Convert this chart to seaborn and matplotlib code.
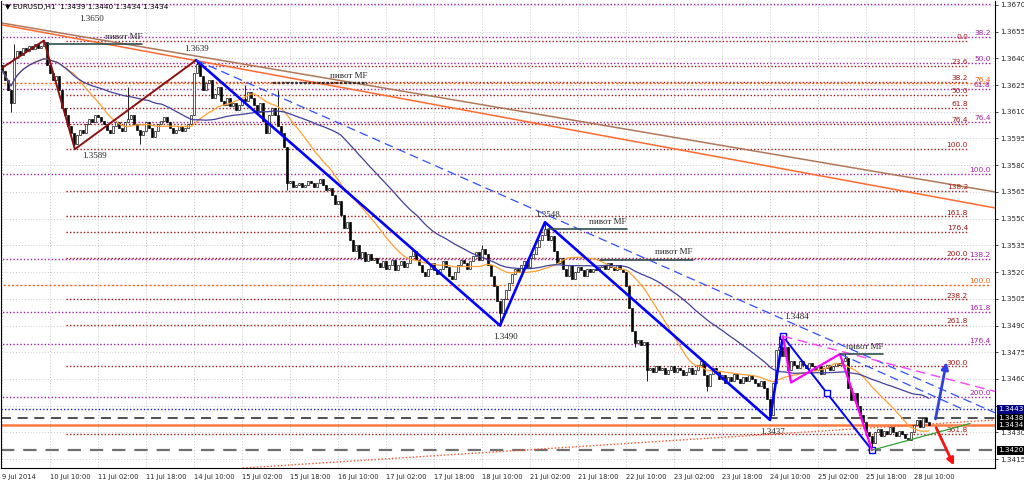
import numpy as np
import pandas as pd
import matplotlib
matplotlib.use("Agg")
import matplotlib.pyplot as plt
import matplotlib.transforms as mtransforms
import seaborn as sns

sns.set_style("white")
plt.rcParams['font.family'] = ['DejaVu Sans']

# EURUSD H1 closes, in pips above 1.3000 (633 -> 1.3633), bar 0 = 9 Jul 18:00
closes = [633, 628, 622, 615, 640, 644, 642, 646, 644, 647, 645, 648, 646, 647, 649,
          636, 632, 628, 630, 622, 612, 608, 602, 598, 592,
          597, 600, 598, 603, 606, 604, 608, 607, 605, 603, 600, 598, 602, 604, 601,
          599, 604, 606, 608, 603, 600, 597, 599, 604, 601, 596, 599, 603, 605, 607,
          604, 601, 598, 600, 602, 599, 601, 603, 608,
          632, 637,
          630, 622, 626, 628, 618, 620, 624, 616, 614, 618,
          613, 615, 611, 614, 617, 616, 621, 618,
          614, 610, 615, 605, 598, 608, 612, 608, 602, 598,
          590, 570,
          571, 568, 569, 570, 568, 569, 571, 570, 568, 570, 572, 569, 566, 567, 563,
          558, 560, 552, 545, 548, 538, 532, 535,
          528, 531, 526, 530, 527, 528, 525,
          523, 526, 522, 524, 527, 521, 524, 526, 523, 525,
          529, 532, 527, 524, 520, 518, 522, 525, 521, 519,
          522, 526, 523, 518, 516, 520, 524, 527, 525, 522,
          526, 529, 531, 527, 533, 530, 524,
          518, 512, 504, 497,
          505, 510, 514, 519, 522, 520, 524, 526, 523,
          528, 530, 534, 538, 541, 544,
          538, 540, 532, 525, 528, 522, 518, 524, 516, 520, 523, 521, 518, 522,
          520, 522, 521, 523, 524, 522, 525, 523, 521, 524, 522, 520,
          512, 500, 487, 480,
          482, 479, 481,
          465,
          466, 464, 467, 465, 466, 463, 465, 467, 464, 466, 465, 462, 464, 466, 463, 465, 468,
          470, 462, 456, 463, 466,
          464, 460, 462, 458, 461, 459, 463, 460, 458, 461, 459, 462, 460, 458, 456, 459, 455, 449,
          440, 458, 476, 478,
          473, 478, 465, 470, 468, 466, 470, 468, 466, 469, 467,
          465, 467, 463, 466, 468, 465, 467, 469, 468, 470, 472,
          455, 448, 452, 445, 440, 436, 430, 428, 424,
          430, 432, 428, 431, 429, 433, 430, 428, 431, 429, 427, 426, 430,
          434, 437, 433, 438, 436, 434]
first_open = 636
spike_hi = {4: 648, 14: 650, 42: 624, 65: 639, 81: 625, 92: 622, 160: 535,
            181: 548, 233: 472, 259: 484, 281: 474}
spike_lo = {3: 610, 24: 589, 46: 592, 95: 566, 166: 490, 211: 478, 215: 459,
            235: 453, 256: 437, 257: 440, 290: 420}

tick_bars = [0, 16, 32, 48, 64, 80, 96, 112, 128, 144, 160, 176, 192, 208, 224,
             240, 256, 272, 288, 304]
tick_labels = ['9 Jul 2014', '10 Jul 10:00', '11 Jul 02:00', '11 Jul 18:00', '14 Jul 10:00',
               '15 Jul 02:00', '15 Jul 18:00', '16 Jul 10:00', '17 Jul 02:00', '17 Jul 18:00',
               '18 Jul 10:00', '21 Jul 02:00', '21 Jul 18:00', '22 Jul 10:00', '23 Jul 02:00',
               '23 Jul 18:00', '24 Jul 10:00', '25 Jul 02:00', '25 Jul 18:00', '28 Jul 10:00']
price_ticks = [1.3670, 1.3655, 1.3640, 1.3625, 1.3610, 1.3595, 1.3580, 1.3565, 1.3550,
               1.3535, 1.3520, 1.3505, 1.3490, 1.3475, 1.3460, 1.3445, 1.3430, 1.3415]

# fibonacci grids
fib_red = (1.3650, 1.3589)
fib_red_levels = [0.0, 23.6, 38.2, 50.0, 61.8, 76.4, 100.0, 138.2, 161.8, 176.4,
                  200.0, 238.2, 261.8, 300.0, 361.8]
fib_purple = (1.3700, 1.3575)
fib_purple_levels = [23.6, 38.2, 50.0, 61.8, 76.4, 100.0, 138.2, 161.8, 176.4, 200.0]
fib_orange_levels = ['76.4', '100.0']
fib_orange_prices = [1.3626, 1.3513]

# zigzags (bar, price)
zz_red_bars = [-0.6, 14, 24.3, 64.7]
zz_red_prices = [1.3634, 1.3650, 1.3589, 1.3639]
zz_blue_bars = [64.7, 166, 181, 256, 260.3]
zz_blue_prices = [1.3639, 1.3490, 1.3548, 1.3437, 1.3484]
zz_blue2_bars = [260.3, 275, 290]
zz_blue2_prices = [1.3484, 1.3452, 1.3420]
zz_mag_bars = [260.3, 263, 279.3, 290]
zz_mag_prices = [1.3484, 1.3458, 1.3474, 1.3420]

# trend lines (bar, price) start/end
trend_brown = ([-0.6, 331], [1.3660, 1.3565])
trend_orange = ([-0.6, 331], [1.3659, 1.3556])
trend_blue_dash = ([64.7, 331], [1.3639, 1.3441])
trend_blue_dash2 = ([279.3, 320.3], [1.3474, 1.3443])
trend_mag_dash = ([260.3, 331], [1.3484, 1.3453])
trend_orange_dot = ([80.3, 331], [1.3410, 1.3437])
trend_green = ([290, 322.7], [1.3420, 1.3435])
arrow_up = ((311, 1.3436), (315, 1.3471))
arrow_down = ((311, 1.3434), (317.7, 1.3410))

# "pivot MF" segments: start bar, end bar, price
pivots = [(15.3, 46.7, 1.3648), (90.3, 121.7, 1.3626), (182, 208.3, 1.3544),
          (199.3, 230.3, 1.3527), (279.3, 293.7, 1.3474)]
# swing labels: bar, price, text
swing_labels = [(30, 1.3662, '1.3650'), (65, 1.36455, '1.3639'), (30.7, 1.3585, '1.3589'),
                (182, 1.3552, '1.3548'), (167.7, 1.34835, '1.3490'),
                (265, 1.3495, '1.3484'), (256.7, 1.3430, '1.3437')]
# horizontal lines at the bottom
h_lines = [1.3443, 1.3438, 1.3434, 1.3420]

# ---- build candles
df = pd.DataFrame({'bar': np.arange(len(closes)), 'close': np.array(closes) / 10000 + 1.3})
df['open'] = df['close'].shift(1).fillna(first_open / 10000 + 1.3)
df['high'] = df[['open', 'close']].max(axis=1)
df['low'] = df[['open', 'close']].min(axis=1)
for k, v in spike_hi.items():
    df.loc[k, 'high'] = max(df.loc[k, 'high'], v / 10000 + 1.3)
for k, v in spike_lo.items():
    df.loc[k, 'low'] = min(df.loc[k, 'low'], v / 10000 + 1.3)
df['ma_fast'] = df['close'].rolling(21, min_periods=1).mean()
df['ma_slow'] = df['close'].rolling(50, min_periods=1).mean()

fig = plt.figure(figsize=(10.24, 4.82), dpi=100)
ax = fig.add_axes([1 / 1024, 14 / 482, 994 / 1024, 467 / 482])
ax.set_xlim(-0.33, 331)
ax.set_ylim(1.34100, 1.36722)

# grid
for b in tick_bars:
    ax.axvline(b, color='#c8c8c8', ls=(0, (1, 2)), lw=0.7, zorder=0)
for p in price_ticks:
    ax.axhline(p, color='#c8c8c8', ls=(0, (1, 2)), lw=0.7, zorder=0)

# fib lines
red_c = '#a01818'
for lv in fib_red_levels:
    p = fib_red[0] + (fib_red[1] - fib_red[0]) * lv / 100
    ax.plot([21.5, 322], [p, p], color=red_c, ls=(0, (1, 1.5)), lw=1, zorder=1)
    ax.annotate(f'{lv:.1f}', (322, p), xytext=(0, 0.5), textcoords='offset points',
                ha='right', va='bottom', fontsize=5.4, color=red_c)
pur_c = '#a020a8'
for lv in fib_purple_levels:
    p = fib_purple[0] + (fib_purple[1] - fib_purple[0]) * lv / 100
    ax.plot([-1, 329.5], [p, p], color=pur_c, ls=(0, (1, 1.5)), lw=1, zorder=1)
    if lv > 30:
        ax.annotate(f'{lv:.1f}', (329.5, p), xytext=(0, 0.5), textcoords='offset points',
                    ha='right', va='bottom', fontsize=5.4, color=pur_c)
org_c = '#ff6010'
for lab, p in zip(fib_orange_levels, fib_orange_prices):
    ax.plot([-1, 329.5], [p, p], color=org_c, ls=(0, (1.5, 1.5)), lw=1, zorder=1)
    ax.annotate(lab, (329.5, p), xytext=(0, 0.5), textcoords='offset points',
                ha='right', va='bottom', fontsize=5.4, color=org_c)

# bottom horizontal lines
ax.axhline(h_lines[0], color='#1020c0', ls=(0, (1, 1.5)), lw=1, zorder=1)
ax.axhline(h_lines[1], color='#303030', ls=(0, (6, 4)), lw=1.2, zorder=1)
ax.axhline(h_lines[2], color='#ff7a40', lw=1.8, zorder=1)
ax.axhline(h_lines[3], color='#707070', ls=(0, (6, 4)), lw=1.6, zorder=1)

# long trend lines
ax.plot(*trend_brown, color='#b07858', lw=1.1, zorder=2)
ax.plot(*trend_orange, color='#ff6a30', lw=1.1, zorder=2)
ax.plot(*trend_orange_dot, color='#ff5020', ls=(0, (1, 1.5)), lw=1, zorder=2)

# candles
bull = df['close'] >= df['open']
ax.vlines(df['bar'], df['low'], df['high'], color='black', lw=0.6, zorder=3)
body = (df['close'] - df['open']).abs().clip(lower=0.00004)
ax.bar(df['bar'][bull], body[bull], bottom=df['open'][bull], width=0.62,
       color='white', edgecolor='black', linewidth=0.45, zorder=3)
ax.bar(df['bar'][~bull], body[~bull], bottom=df['close'][~bull], width=0.62,
       color='black', edgecolor='black', linewidth=0.45, zorder=3)

# moving averages
sns.lineplot(data=df, x='bar', y='ma_fast', color='#ffa030', lw=0.9, ax=ax, zorder=4)
sns.lineplot(data=df, x='bar', y='ma_slow', color='#40409c', lw=0.9, ax=ax, zorder=4)

# zigzags and channel lines
ax.plot(zz_red_bars, zz_red_prices, color='#8b1010', lw=1.4, zorder=5)
ax.plot(zz_blue_bars, zz_blue_prices, color='#0000ff', lw=1.9, zorder=5)
ax.plot(zz_blue2_bars, zz_blue2_prices, color='#0000ff', lw=1.4, zorder=5,
        marker='s', ms=4, mfc='white', mec='#0000ff', mew=1)
ax.plot(zz_mag_bars, zz_mag_prices, color='#ff00ff', lw=1.6, zorder=5)
ax.plot(*trend_blue_dash, color='#3050ff', ls=(0, (7, 4)), lw=0.9, zorder=5)
ax.plot(*trend_blue_dash2, color='#3050ff', ls=(0, (7, 4)), lw=0.9, zorder=5)
ax.plot(*trend_mag_dash, color='#ff40ff', ls=(0, (7, 4)), lw=1, zorder=5)
ax.plot(*trend_green, color='#30a030', lw=0.9, zorder=5)
ax.annotate('', xy=arrow_up[1], xytext=arrow_up[0],
            arrowprops=dict(arrowstyle='-|>', color='#3040e0', lw=2, mutation_scale=10), zorder=6)
ax.annotate('', xy=arrow_down[1], xytext=arrow_down[0],
            arrowprops=dict(arrowstyle='-|>', color='#ff1010', lw=2, mutation_scale=10),
            zorder=6, annotation_clip=False)

# pivot MF
for i, (b0, b1, p) in enumerate(pivots):
    if i == 1:
        ax.plot([b0, b1], [p, p], color='#303030', ls=(0, (1.2, 0.8)), lw=1.6, zorder=5)
    else:
        ax.plot([b0, b1], [p, p], color='#2f4f4f', lw=1.2, zorder=5)
    ax.annotate('пивот MF', (b1, p), xytext=(0, 2.5), textcoords='offset points',
                ha='right', va='bottom', fontsize=6.5, family='Liberation Serif', zorder=6)
for b, p, t in swing_labels:
    ax.text(b, p, t, ha='center', va='center', fontsize=6.5, family='Liberation Serif', zorder=6)

# title
ax.text(0.004, 0.993, '\u25bc EURUSD,H1  1.3439 1.3440 1.3434 1.3434', transform=ax.transAxes,
        ha='left', va='top', fontsize=5.2, color='black', zorder=7)

# axes (1.3445 label sits under the price boxes, as in the terminal)
ax.yaxis.tick_right()
ax.set_yticks(price_ticks, ['' if p == 1.3445 else f'{p:.4f}' for p in price_ticks])
ax.set_xticks(tick_bars, tick_labels, ha='left')
ax.tick_params(axis='y', direction='out', length=2.5, width=0.6, pad=1.5, labelsize=5.2)
ax.tick_params(axis='x', direction='out', length=2.5, width=0.6, pad=1.5, labelsize=4.9)
ax.set_xlabel('')
ax.set_ylabel('')
for s in ['left', 'bottom', 'right']:
    ax.spines[s].set_color('black')
    ax.spines[s].set_linewidth(0.8)
ax.spines['top'].set_visible(False)

tr = mtransforms.blended_transform_factory(ax.transAxes, ax.transData)
box_cols = ['#000080', 'black', 'black', 'black']
for p, c in zip(h_lines, box_cols):
    ax.text(1.003, p, f'{p:.4f}', transform=tr, ha='left', va='center', fontsize=5.2,
            color='white', clip_on=False, zorder=8,
            bbox=dict(boxstyle='square,pad=0.2', fc=c, ec='none'))

fig.savefig('out.png', dpi=100)
